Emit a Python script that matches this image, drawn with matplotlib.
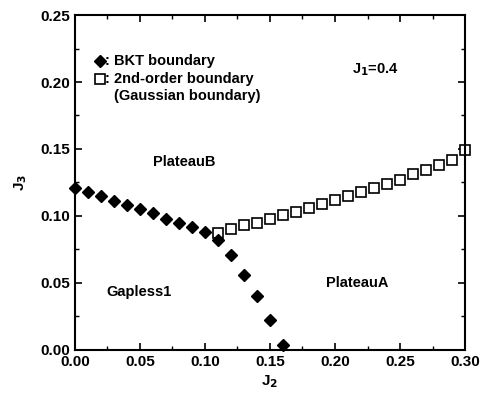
import numpy as np
from matplotlib import pyplot as plt

plt.rcParams['font.family'] = ['Liberation Sans', 'DejaVu Sans']
plt.rcParams['font.weight'] = 'bold'

# BKT boundary (filled diamonds)
bkt_j2 = [0.00, 0.01, 0.02, 0.03, 0.04, 0.05, 0.06, 0.07, 0.08, 0.09, 0.10, 0.11,
          0.12, 0.13, 0.14, 0.15, 0.16]
bkt_j3 = [0.121, 0.118, 0.115, 0.111, 0.108, 0.105, 0.102, 0.098, 0.095, 0.092, 0.088, 0.082,
          0.071, 0.056, 0.040, 0.022, 0.004]

# 2nd-order (Gaussian) boundary (open squares)
gauss_j2 = [0.11, 0.12, 0.13, 0.14, 0.15, 0.16, 0.17, 0.18, 0.19, 0.20,
            0.21, 0.22, 0.23, 0.24, 0.25, 0.26, 0.27, 0.28, 0.29, 0.30]
gauss_j3 = [0.087, 0.090, 0.093, 0.095, 0.098, 0.101, 0.103, 0.106, 0.109, 0.112,
            0.115, 0.118, 0.121, 0.124, 0.127, 0.131, 0.134, 0.138, 0.142, 0.149]

fig = plt.figure(figsize=(4.86, 3.95), dpi=100)
ax = fig.add_axes([0.154, 0.114, 0.803, 0.848])

ax.plot(bkt_j2, bkt_j3, 'D', color='black', ms=6.3, clip_on=False, zorder=3)
ax.plot(gauss_j2, gauss_j3, 's', mfc='white', mec='black', mew=1.2, ms=6.8,
        clip_on=False, zorder=2)

ax.set_xlim(0, 0.30)
ax.set_ylim(0, 0.25)
ax.set_xticks(np.arange(0, 0.301, 0.05))
ax.set_yticks(np.arange(0, 0.251, 0.05))
ax.set_xticklabels([f'{v:.2f}' for v in np.arange(0, 0.301, 0.05)])
ax.set_yticklabels([f'{v:.2f}' for v in np.arange(0, 0.251, 0.05)])
ax.set_xticks(np.arange(0, 0.301, 0.025), minor=True)
ax.set_yticks(np.arange(0, 0.251, 0.025), minor=True)
ax.tick_params(which='both', direction='in', top=True, right=True, labelsize=11)
ax.tick_params(which='major', length=5, width=1.2)
ax.tick_params(which='minor', length=3, width=1)
for s in ax.spines.values():
    s.set_linewidth(1.5)

ax.set_xlabel(r'J$_\mathbf{2}$', fontsize=11, fontweight='bold', labelpad=3)
ax.set_ylabel(r'J$_\mathbf{3}$', fontsize=11, fontweight='bold', labelpad=8)

# legend drawn as text with markers
ax.plot([0.019], [0.2155], 'D', color='black', ms=6.3)
ax.text(0.0235, 0.2155, ': BKT boundary', fontsize=10.5, va='center')
ax.plot([0.019], [0.2025], 's', mfc='white', mec='black', mew=1.2, ms=6.8)
ax.text(0.0235, 0.2025, ': 2nd-order boundary', fontsize=10.5, va='center')
ax.text(0.030, 0.1895, '(Gaussian boundary)', fontsize=10.5, va='center')

ax.text(0.231, 0.209, r'J$_\mathbf{1}$=0.4', fontsize=10.5, ha='center', va='center')
ax.text(0.084, 0.140, 'PlateauB', fontsize=10.5, ha='center', va='center')
ax.text(0.049, 0.043, 'Gapless1', fontsize=10.5, ha='center', va='center')
ax.text(0.217, 0.050, 'PlateauA', fontsize=10.5, ha='center', va='center')

plt.savefig('out.png', dpi=100)
